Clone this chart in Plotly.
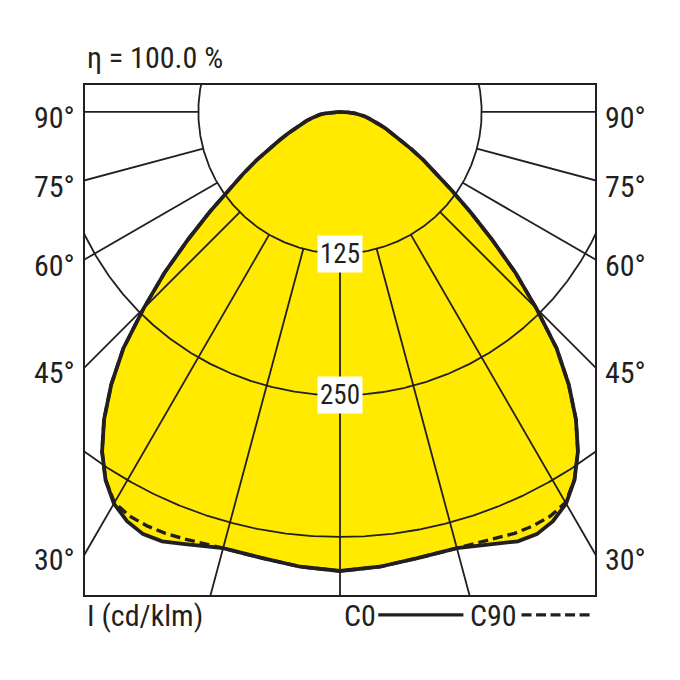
import numpy as np
import plotly.graph_objects as go

# ---- data (cd/klm) ----
gamma = [0, 5, 10, 15, 17.5, 20, 22.5, 25, 27.5, 30, 32.5, 35, 37.5, 40, 42.5, 45,
         47.5, 50, 52.5, 55, 57.5, 60, 62.5, 65, 67.5, 70, 72.5, 75, 77.5, 80,
         82.5, 85, 87.5, 90]
c0 = [405, 402.8, 399.5, 398.5, 401.5, 405.5, 410, 411, 407, 399, 385, 366, 342,
      314, 283, 245, 210, 175, 145, 120, 101, 85, 71, 59, 50, 43, 36, 31, 26, 22,
      18, 13, 7, 0]
c90 = [405, 402.8, 399.5, 398.5, 399, 401, 402.5, 403, 402, 398, 385, 366, 342,
       314, 283, 245, 210, 175, 145, 120, 101, 85, 71, 59, 50, 43, 36, 31, 26, 22,
       18, 13, 7, 0]
ring_values = [125, 250, 375, 500]
ring_labels = ["125", "250"]
spoke_angles = [0, 15, 30, 45, 60, 75, 90]
tick_angles = [30, 45, 60, 75, 90]
eta_text = "η = 100.0 %"
unit_text = "I (cd/klm)"
series_names = ["C0", "C90"]

INK = "#231f20"
YELLOW = "#ffea00"
FONT = ("Liberation Sans Narrow, Roboto Condensed, Noto Sans Condensed, "
        "Open Sans Condensed, DejaVu Sans Condensed, sans-serif")


def full_curve(g, v):
    g = np.array(g, float)
    v = np.array(v, float)
    ang = np.concatenate([-g[::-1], g[1:]])
    val = np.concatenate([v[::-1], v[1:]])
    rad = np.radians(ang)
    return val * np.sin(rad), -val * np.cos(rad)


fig = go.Figure()

x0, y0 = full_curve(gamma, c0)
x9, y9 = full_curve(gamma, c90)

# yellow fill
fig.add_trace(go.Scatter(x=x0, y=y0, fill="toself", fillcolor=YELLOW,
                         line=dict(width=0, color=YELLOW), mode="lines",
                         hoverinfo="skip", showlegend=False))

# rings
th = np.linspace(0, 2 * np.pi, 1441)
for r in ring_values:
    fig.add_trace(go.Scatter(x=r * np.sin(th), y=-r * np.cos(th), mode="lines",
                             line=dict(color=INK, width=1.8), hoverinfo="skip",
                             showlegend=False))

# spokes
sx, sy = [], []
for a in spoke_angles:
    for s in ([1] if a == 0 else [1, -1]):
        rad = np.radians(s * a)
        for r in (ring_values[0], 2000):
            sx.append(r * np.sin(rad))
            sy.append(-r * np.cos(rad))
        sx.append(None)
        sy.append(None)
fig.add_trace(go.Scatter(x=sx, y=sy, mode="lines", line=dict(color=INK, width=1.8),
                         hoverinfo="skip", showlegend=False))

# curves
fig.add_trace(go.Scatter(x=x9, y=y9, mode="lines", name=series_names[1],
                         line=dict(color=INK, width=3.4, dash="10px,5px"),
                         showlegend=False))
fig.add_trace(go.Scatter(x=x0, y=y0, mode="lines", name=series_names[0],
                         line=dict(color=INK, width=3.8), showlegend=False))

XR = 225
FS = 30
annotations = []
for a in tick_angles:
    yv = -XR / np.tan(np.radians(a)) if a != 90 else 0.0
    for side in (0, 1):
        annotations.append(dict(
            xref="paper", yref="y", x=side, y=yv, text=f"{a}°", showarrow=False,
            xanchor="right" if side == 0 else "left", yanchor="middle",
            xshift=-8 if side == 0 else 8, yshift=-6,
            font=dict(family=FONT, size=FS, color=INK)))

for val, lab in zip(ring_values, ring_labels):
    annotations.append(dict(x=0, y=-val, xref="x", yref="y", text=lab,
                            showarrow=False, bgcolor="white", borderpad=2,
                            font=dict(family=FONT, size=27, color=INK)))

annotations.append(dict(xref="paper", yref="paper", x=0, y=1.054, text=eta_text,
                        showarrow=False, xanchor="left", yanchor="middle",
                        font=dict(family=FONT, size=FS, color=INK)))
annotations.append(dict(xref="paper", yref="paper", x=0, y=-0.041, text=unit_text,
                        showarrow=False, xanchor="left", yanchor="middle",
                        font=dict(family=FONT, size=FS, color=INK)))
annotations.append(dict(xref="paper", yref="paper", x=0.503, y=-0.041,
                        text=series_names[0], showarrow=False, xanchor="left",
                        yanchor="middle", font=dict(family=FONT, size=FS, color=INK)))
annotations.append(dict(xref="paper", yref="paper", x=0.7516, y=-0.041,
                        text=series_names[1], showarrow=False, xanchor="left",
                        yanchor="middle", font=dict(family=FONT, size=FS, color=INK)))

shapes = [
    dict(type="line", xref="paper", yref="paper", x0=0.575, x1=0.742, y0=-0.039,
         y1=-0.039, line=dict(color=INK, width=3.2)),
    dict(type="line", xref="paper", yref="paper", x0=0.856, x1=0.9935, y0=-0.039,
         y1=-0.039, line=dict(color=INK, width=3.2, dash="10px,4.5px")),
]

axis_common = dict(showgrid=False, zeroline=False, showticklabels=False, ticks="",
                   showline=True, mirror=True, linecolor=INK, linewidth=1.5,
                   fixedrange=True)
# page body has an 8px default margin: figure is 672x672 placed at (8, 8)
fig.update_layout(
    width=672, height=672,
    margin=dict(l=77, r=85, t=77, b=85),
    paper_bgcolor="white", plot_bgcolor="white",
    xaxis=dict(range=[-XR, XR], **axis_common),
    yaxis=dict(range=[-426.2, 23.8], **axis_common),
    annotations=annotations, shapes=shapes, showlegend=False,
)

fig.write_html("out.html")
